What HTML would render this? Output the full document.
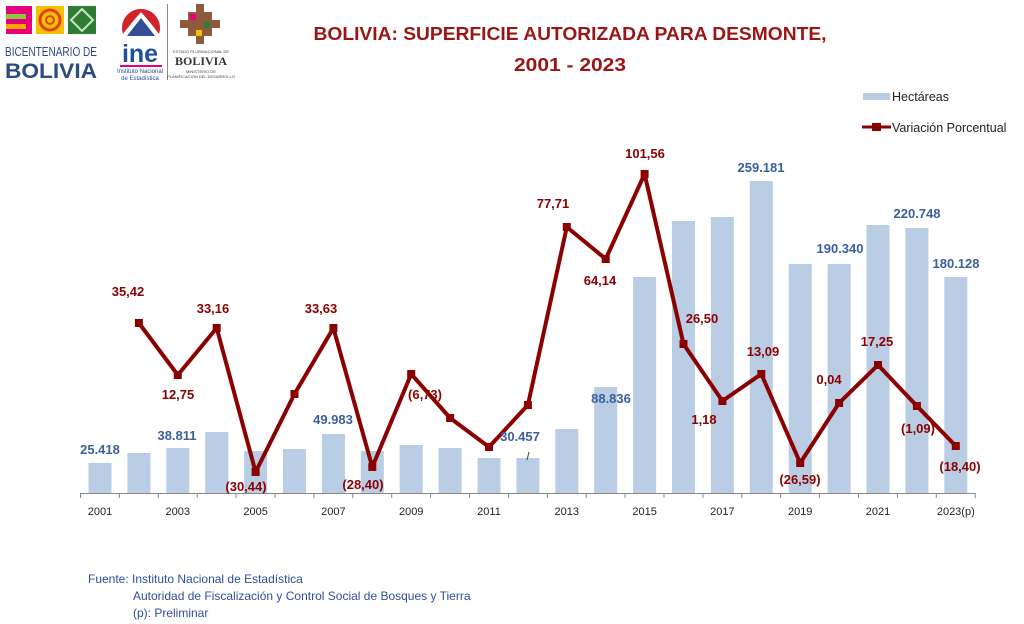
<!DOCTYPE html>
<html><head><meta charset="utf-8"><style>
body{margin:0;background:#fff;}
svg{display:block;font-family:"Liberation Sans",sans-serif;}
.bl{fill:#3a5f9e;font-weight:bold;font-size:13px;text-anchor:middle;}
.rd{fill:#8b0000;font-weight:bold;font-size:13px;text-anchor:middle;}
.ax{fill:#222;font-size:11px;text-anchor:middle;}
</style></head><body>
<svg width="1024" height="624" viewBox="0 0 1024 624">
<!-- logos -->
<rect x="6" y="6" width="26" height="28" fill="#e6007e"/><rect x="6" y="14" width="20" height="5" fill="#8cc63f"/><rect x="6" y="24" width="20" height="5" fill="#f7a600"/>
<rect x="36" y="6" width="28" height="28" fill="#f6c100"/><circle cx="50" cy="20" r="10" fill="none" stroke="#e2401c" stroke-width="3"/><circle cx="50" cy="20" r="4" fill="none" stroke="#e2401c" stroke-width="2"/>
<rect x="68" y="6" width="28" height="28" fill="#2e7d32"/><path d="M82 9 L93 20 L82 31 L71 20Z" fill="none" stroke="#c8e6c9" stroke-width="2"/>
<text x="51" y="56" font-size="12.5" fill="#2e4b7e" text-anchor="middle" textLength="92" lengthAdjust="spacingAndGlyphs">BICENTENARIO DE</text>
<text x="51" y="78" font-size="21" font-weight="bold" fill="#2e4b7e" text-anchor="middle" textLength="92" lengthAdjust="spacingAndGlyphs">BOLIVIA</text>
<path d="M123 34 A19 19 0 1 1 159 34 Q150 22 141 12 Q132 22 123 34Z" fill="#d2232a"/>
<path d="M127 36 L141 18 L155 36Z" fill="#1e3a8a" opacity="0.9"/>
<text x="140" y="62" font-size="25" font-weight="bold" fill="#1e4fa0" text-anchor="middle">ine</text>
<rect x="120" y="65" width="42" height="2" fill="#e6007e"/>
<text x="140" y="73" font-size="6" fill="#1e4fa0" text-anchor="middle">Instituto Nacional</text>
<text x="140" y="80" font-size="6" fill="#1e4fa0" text-anchor="middle">de Estadística</text>
<rect x="167" y="4" width="1" height="76" fill="#888"/>
<path d="M196 4 h8 v8 h8 v8 h8 v8 h-8 v8 h-8 v8 h-8 v-8 h-8 v-8 h-8 v-8 h8 v-8 h8Z" fill="#8d5a3c"/>
<rect x="190" y="14" width="6" height="6" fill="#e6007e"/><rect x="204" y="22" width="6" height="6" fill="#2e7d32"/><rect x="196" y="30" width="6" height="6" fill="#f6c100"/>
<text x="201" y="53" font-size="4" fill="#444" text-anchor="middle">ESTADO PLURINACIONAL DE</text>
<text x="201" y="65" font-size="12" font-family="Liberation Serif" font-weight="bold" fill="#333" text-anchor="middle">BOLIVIA</text>
<text x="201" y="73" font-size="4" fill="#444" text-anchor="middle">MINISTERIO DE</text>
<text x="201" y="78" font-size="4" fill="#444" text-anchor="middle">PLANIFICACIÓN DEL DESARROLLO</text>
<!-- title -->
<text x="570" y="40" font-size="18" font-weight="bold" fill="#9b1515" text-anchor="middle" textLength="513" lengthAdjust="spacingAndGlyphs">BOLIVIA: SUPERFICIE AUTORIZADA PARA DESMONTE,</text>
<text x="570" y="71" font-size="18" font-weight="bold" fill="#9b1515" text-anchor="middle" textLength="112" lengthAdjust="spacingAndGlyphs">2001 - 2023</text>
<!-- legend -->
<rect x="863" y="93" width="27" height="7" fill="#b9cde5"/>
<text x="892" y="101" font-size="12.5" fill="#222">Hectáreas</text>
<line x1="862" y1="127" x2="891" y2="127" stroke="#8b0000" stroke-width="3"/><rect x="872" y="123" width="9" height="8" fill="#8b0000"/>
<text x="892" y="132" font-size="12.5" fill="#222">Variación Porcentual</text>
<!-- bars -->
<g fill="#b9cde5">
<rect x="88.5" y="463" width="23" height="30"/>
<rect x="127.4" y="453" width="23" height="40"/>
<rect x="166.3" y="448" width="23" height="45"/>
<rect x="205.2" y="432" width="23" height="61"/>
<rect x="244.1" y="451" width="23" height="42"/>
<rect x="283" y="449" width="23" height="44"/>
<rect x="321.9" y="434" width="23" height="59"/>
<rect x="360.8" y="451" width="23" height="42"/>
<rect x="399.7" y="445" width="23" height="48"/>
<rect x="438.6" y="448" width="23" height="45"/>
<rect x="477.5" y="458" width="23" height="35"/>
<rect x="516.4" y="458" width="23" height="35"/>
<rect x="555.3" y="429" width="23" height="64"/>
<rect x="594.2" y="387" width="23" height="106"/>
<rect x="633.1" y="277" width="23" height="216"/>
<rect x="672" y="221" width="23" height="272"/>
<rect x="710.9" y="217" width="23" height="276"/>
<rect x="749.8" y="181" width="23" height="312"/>
<rect x="788.7" y="264" width="23" height="229"/>
<rect x="827.6" y="264" width="23" height="229"/>
<rect x="866.5" y="225" width="23" height="268"/>
<rect x="905.4" y="228" width="23" height="265"/>
<rect x="944.3" y="277" width="23" height="216"/>
</g>
<!-- axis -->
<line x1="80.5" y1="493.5" x2="975" y2="493.5" stroke="#888" stroke-width="1"/>
<g stroke="#888" stroke-width="1">
<path d="M80.5 493v5M119.4 493v5M158.3 493v5M197.2 493v5M236.1 493v5M275 493v5M313.9 493v5M352.8 493v5M391.7 493v5M430.6 493v5M469.5 493v5M508.4 493v5M547.3 493v5M586.2 493v5M625.1 493v5M664 493v5M702.9 493v5M741.8 493v5M780.7 493v5M819.6 493v5M858.5 493v5M897.4 493v5M936.3 493v5M975.2 493v5"/>
</g>
<g class="ax">
<text x="100" y="515">2001</text><text x="177.8" y="515">2003</text><text x="255.6" y="515">2005</text><text x="333.4" y="515">2007</text><text x="411.2" y="515">2009</text><text x="489" y="515">2011</text><text x="566.8" y="515">2013</text><text x="644.6" y="515">2015</text><text x="722.4" y="515">2017</text><text x="800.2" y="515">2019</text><text x="878" y="515">2021</text><text x="955.8" y="515">2023(p)</text>
</g>
<!-- line -->
<polyline fill="none" stroke="#8b0000" stroke-width="4" stroke-linejoin="round" points="138.9,323 177.8,375 216.7,328 255.6,472 294.5,394 333.4,328 372.3,467 411.2,374 450.1,418 489,447 527.9,405 566.8,227 605.7,259 644.6,174 683.5,344 722.4,401 761.3,374 800.2,463 839.1,403 878,365 916.9,406 955.8,446"/>
<g fill="#8b0000">
<rect x="134.9" y="319" width="8" height="8"/><rect x="173.8" y="371" width="8" height="8"/><rect x="212.7" y="324" width="8" height="8"/><rect x="251.6" y="468" width="8" height="8"/><rect x="290.5" y="390" width="8" height="8"/><rect x="329.4" y="324" width="8" height="8"/><rect x="368.3" y="463" width="8" height="8"/><rect x="407.2" y="370" width="8" height="8"/><rect x="446.1" y="414" width="8" height="8"/><rect x="485" y="443" width="8" height="8"/><rect x="523.9" y="401" width="8" height="8"/><rect x="562.8" y="223" width="8" height="8"/><rect x="601.7" y="255" width="8" height="8"/><rect x="640.6" y="170" width="8" height="8"/><rect x="679.5" y="340" width="8" height="8"/><rect x="718.4" y="397" width="8" height="8"/><rect x="757.3" y="370" width="8" height="8"/><rect x="796.2" y="459" width="8" height="8"/><rect x="835.1" y="399" width="8" height="8"/><rect x="874" y="361" width="8" height="8"/><rect x="912.9" y="402" width="8" height="8"/><rect x="951.8" y="442" width="8" height="8"/>
</g>
<!-- labels -->
<g class="bl">
<text x="100" y="454">25.418</text><text x="177" y="440">38.811</text><text x="333" y="424">49.983</text><text x="520" y="441">30.457</text><text x="611" y="403">88.836</text><text x="761" y="172">259.181</text><text x="840" y="253">190.340</text><text x="917" y="218">220.748</text><text x="956" y="268">180.128</text>
</g>
<line x1="529" y1="452" x2="527" y2="460" stroke="#444" stroke-width="1"/>
<g class="rd">
<text x="128" y="296">35,42</text><text x="178" y="399">12,75</text><text x="213" y="313">33,16</text><text x="246" y="491">(30,44)</text><text x="321" y="313">33,63</text><text x="363" y="489">(28,40)</text><text x="425" y="399">(6,73)</text><text x="553" y="208">77,71</text><text x="600" y="285">64,14</text><text x="645" y="158">101,56</text><text x="702" y="323">26,50</text><text x="704" y="424">1,18</text><text x="763" y="356">13,09</text><text x="800" y="484">(26,59)</text><text x="829" y="384">0,04</text><text x="877" y="346">17,25</text><text x="918" y="433">(1,09)</text><text x="960" y="471">(18,40)</text>
</g>
<!-- source -->
<g font-size="12" fill="#2f4f9a">
<text x="88" y="583">Fuente: Instituto Nacional de Estadística</text>
<text x="133" y="600">Autoridad de Fiscalización y Control Social de Bosques y Tierra</text>
<text x="133" y="617">(p): Preliminar</text>
</g>
</svg>
</body></html>
